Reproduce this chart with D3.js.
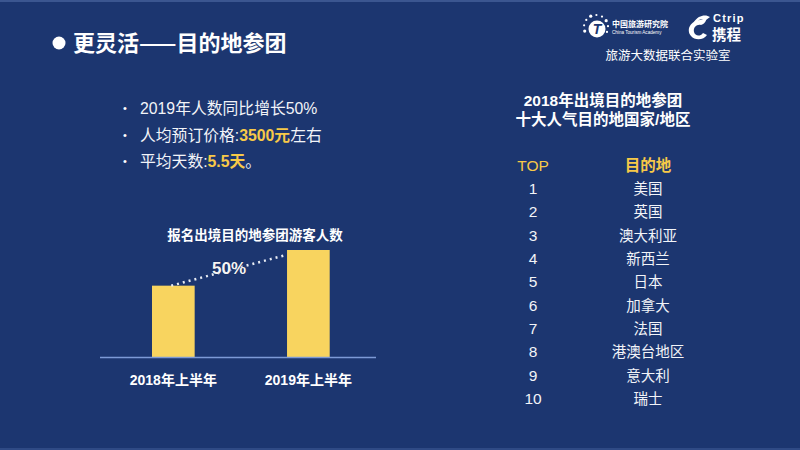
<!DOCTYPE html>
<html><head><meta charset="utf-8">
<script src="https://cdn.jsdelivr.net/npm/d3@7"></script>
<style>
html,body{margin:0;padding:0;background:#1c3670;}
svg{display:block;}
text{font-family:"Liberation Sans","Noto Sans CJK SC",sans-serif;}
</style></head>
<body>
<svg id="c" width="800" height="450"></svg>
<script>
// ---- data ----
const pageTitle = "更灵活——目的地参团";
const bullets = [
  [["2019年人数同比增长50%", false]],
  [["人均预订价格:", false], ["3500元", true], ["左右", false]],
  [["平均天数:", false], ["5.5天", true], ["。", false]]
];
const barTitle = "报名出境目的地参团游客人数";
const barCategories = ["2018年上半年", "2019年上半年"];
const barValues = [100, 150];
const growthLabel = "50%";
const tableTitle = ["2018年出境目的地参团", "十大人气目的地国家/地区"];
const tableHeader = ["TOP", "目的地"];
const ranks = [1, 2, 3, 4, 5, 6, 7, 8, 9, 10];
const destinations = ["美国", "英国", "澳大利亚", "新西兰", "日本", "加拿大", "法国", "港澳台地区", "意大利", "瑞士"];
const labName = "旅游大数据联合实验室";

// ---- drawing ----
const svg = d3.select("#c");
const W = 800, H = 450;
const BG = "#1c3670", YEL = "#f7c948", BAR = "#f8d45f";
const CJK = '"Noto Sans CJK SC",sans-serif';
const MIX = '"Liberation Sans","Noto Sans CJK SC",sans-serif';

svg.append("rect").attr("width", W).attr("height", H).attr("fill", BG);
svg.append("rect").attr("width", W).attr("height", 2).attr("fill", "#3b5690");
svg.append("rect").attr("y", H - 2).attr("width", W).attr("height", 2).attr("fill", "#2f4a85");

// title
svg.append("circle").attr("cx", 59).attr("cy", 43).attr("r", 6.5).attr("fill", "#fff");
svg.append("text").attr("x", 73).attr("y", 51).attr("fill", "#fff")
  .attr("font-size", 22).attr("font-weight", "bold").style("font-family", CJK)
  .text(pageTitle);

// bullets
const bulletY = d3.scaleLinear().domain([0, 2]).range([114, 167]);
bullets.forEach((parts, i) => {
  const yy = bulletY(i);
  svg.append("text").attr("x", 123).attr("y", yy - 2).attr("fill", "#fff")
    .attr("font-size", 11).text("•");
  const t = svg.append("text").attr("x", 140).attr("y", yy).attr("font-size", 15.8)
    .style("font-family", MIX);
  parts.forEach(([s, hl]) => {
    t.append("tspan").attr("fill", hl ? YEL : "#f2f4f8")
      .attr("font-weight", hl ? "bold" : "normal").text(s);
  });
});

// bar chart
const x = d3.scaleBand().domain(barCategories).range([152, 329.7]).paddingInner(0.684).paddingOuter(0);
const y = d3.scaleLinear().domain([0, 150]).range([357, 250]);
svg.append("text").attr("x", 255).attr("y", 240).attr("text-anchor", "middle")
  .attr("fill", "#fff").attr("font-size", 13.5).attr("font-weight", "bold").style("font-family", CJK)
  .text(barTitle);
svg.selectAll("rect.bar").data(barValues).enter().append("rect").attr("class", "bar")
  .attr("x", (d, i) => x(barCategories[i])).attr("width", x.bandwidth())
  .attr("y", d => y(d)).attr("height", d => y(0) - y(d)).attr("fill", BAR);
svg.append("line").attr("x1", 100).attr("x2", 376).attr("y1", y(0) + 0.5).attr("y2", y(0) + 0.5)
  .attr("stroke", "#7d9ad6").attr("stroke-width", 1.5);
svg.selectAll("text.cat").data(barCategories).enter().append("text").attr("class", "cat")
  .attr("x", d => x(d) + x.bandwidth() / 2).attr("y", 385).attr("text-anchor", "middle")
  .attr("fill", "#fff").attr("font-size", 14).attr("font-weight", "bold")
  .style("font-family", MIX).text(d => d);
// growth dotted line
const x1 = x(barCategories[0]) + x.bandwidth() * 0.45, y1 = y(barValues[0]);
const x2 = x(barCategories[1]) - 1, y2 = y(barValues[1]) + 5;
svg.append("line").attr("x1", x1).attr("y1", y1).attr("x2", x2).attr("y2", y2)
  .attr("stroke", "#e8ecf4").attr("stroke-width", 2.5).attr("stroke-dasharray", "2,4")
  .attr("stroke-linecap", "butt");
svg.append("text").attr("x", 229).attr("y", 274).attr("text-anchor", "middle")
  .attr("fill", "#f4f4f4").attr("font-size", 17).attr("font-weight", "bold")
  .attr("stroke", "#10204a").attr("stroke-width", 0.6).attr("paint-order", "stroke")
  .text(growthLabel);

// right table
tableTitle.forEach((s, i) => {
  svg.append("text").attr("x", 603).attr("y", 106 + i * 19).attr("text-anchor", "middle")
    .attr("fill", "#fff").attr("font-size", 15.5).attr("font-weight", "bold")
    .style("font-family", MIX).text(s);
});
const colX = [533, 648];
tableHeader.forEach((s, i) => {
  svg.append("text").attr("x", colX[i]).attr("y", 171).attr("text-anchor", "middle")
    .attr("fill", YEL).attr("font-size", 15.5).attr("font-weight", i === 1 ? "bold" : "normal")
    .style("font-family", MIX).text(s);
});
const rowY = d3.scaleLinear().domain([1, 10]).range([194, 404]);
ranks.forEach((r, i) => {
  svg.append("text").attr("x", colX[0]).attr("y", rowY(r)).attr("text-anchor", "middle")
    .attr("fill", "#f2f4f8").attr("font-size", 15.5).text(r);
  svg.append("text").attr("x", colX[1]).attr("y", rowY(r)).attr("text-anchor", "middle")
    .attr("fill", "#f2f4f8").attr("font-size", 14.5).style("font-family", CJK).text(destinations[i]);
});

// logos
const lg = svg.append("g");
// China Tourism Academy emblem
const starAngles = d3.range(0, 9).map(k => -200 + k * 28);
starAngles.forEach((a, k) => {
  const rad = a * Math.PI / 180;
  lg.append("circle").attr("cx", 596 + Math.cos(rad) * 12).attr("cy", 27 + Math.sin(rad) * 12)
    .attr("r", k % 3 === 0 ? 1.6 : 1.1).attr("fill", "#fff");
});
lg.append("circle").attr("cx", 597).attr("cy", 29).attr("r", 8.5).attr("fill", "#fff");
lg.append("text").attr("x", 597).attr("y", 34).attr("text-anchor", "middle")
  .attr("fill", "#1c3670").attr("font-size", 14).attr("font-weight", "bold").attr("font-style", "italic").text("T");
lg.append("text").attr("x", 612).attr("y", 27).attr("fill", "#fff").attr("font-size", 8)
  .attr("font-weight", "bold").style("font-family", CJK).text("中国旅游研究院");
lg.append("text").attr("x", 612).attr("y", 34).attr("fill", "#fff").attr("font-size", 4.6)
  .text("China Tourism Academy");
// Ctrip mark
lg.append("path").attr("d", "M700 20 C690 21 686 30 691 36 C695 41 704 40 707 35 L703 33 C700 37 695 36 694 32 C693 27 697 24 701 25 C704 24 707 21 706 18 Z")
  .attr("fill", "#fff");
lg.append("path").attr("d", "M694 22 C698 15 706 14 710 17 L706 20 C703 18 699 19 697 22 Z").attr("fill", "#fff");
lg.append("text").attr("x", 713).attr("y", 22).attr("fill", "#fff").attr("font-size", 11)
  .attr("font-weight", "bold").attr("letter-spacing", 1.2).text("Ctrip");
lg.append("text").attr("x", 712).attr("y", 40).attr("fill", "#fff").attr("font-size", 14.5)
  .attr("font-weight", "bold").style("font-family", CJK).text("携程");
lg.append("text").attr("x", 668).attr("y", 60).attr("text-anchor", "middle").attr("fill", "#fff")
  .attr("font-size", 12.5).style("font-family", CJK).text(labName);
</script>
</body></html>
